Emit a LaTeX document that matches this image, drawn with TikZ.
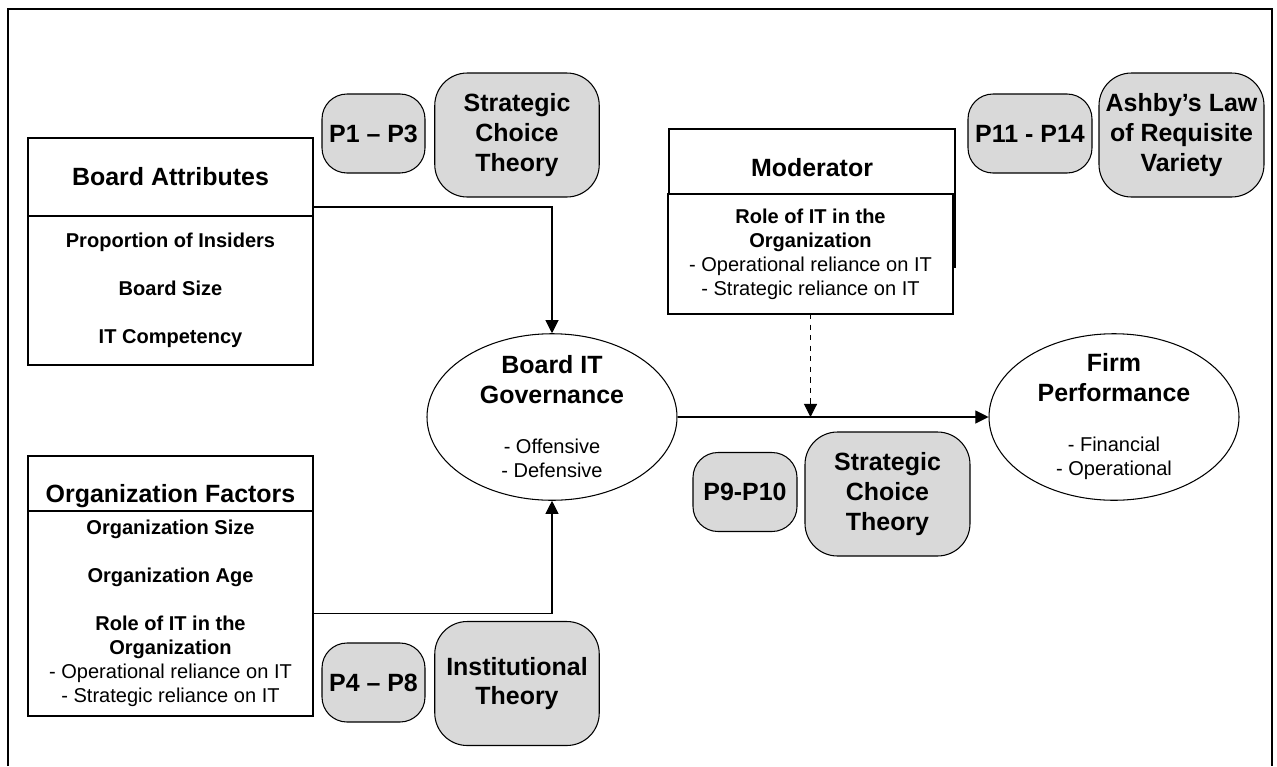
\documentclass[tikz,border=0pt]{standalone}
\usepackage{fontspec}
\setmainfont{Liberation Sans}
\usetikzlibrary{positioning, shapes, arrows.meta, calc}

\definecolor{thgray}{RGB}{217,217,217}
\newcommand{\ttlfont}{\fontsize{14.2}{17}\selectfont\bfseries}
\newcommand{\itmfont}{\fontsize{11.4}{13.7}\selectfont}

\begin{document}
\begin{tikzpicture}[
		line width=0.6pt,
		hbox/.style={rectangle, draw, fill=white, minimum width=5.7cm, align=center, 
		inner sep=0pt, outer sep=0pt},
		ovl/.style={ellipse, draw, minimum width=5cm, minimum height=3.33cm, inner sep=0pt},
		pbox/.style={rectangle, draw, fill=thgray, rounded corners=0.5cm, 
		minimum height=1.58cm, font=\ttlfont, inner sep=0pt},
		thbox/.style={rectangle, draw, fill=thgray, rounded corners=0.65cm, 
		minimum width=3.29cm, minimum height=2.48cm, align=center, font=\ttlfont, inner sep=0pt},
		arr/.style={-{Triangle[length=7.5pt,width=7.5pt]}}
		]
		
		\useasboundingbox (0,0) rectangle (25.54,-15.32);
		
		%Frame
		\draw (0.16,-15.32) |- (25.44,-0.18) -- (25.44,-15.32);
		
		%Nodes
		\node (battr) at (3.41,-3.54) [hbox, minimum height=1.56cm, font=\ttlfont]{Board Attributes};
		
		\node (battrl) [hbox, below=0pt of battr, minimum height=2.98cm, font=\itmfont\bfseries]
		{Proportion of Insiders\\[13.7pt]Board Size\\[13.7pt]IT Competency};
		
		\node (orgf) at (3.41,-9.67) [hbox, minimum height=1.1cm, text height=25pt, text depth=3pt, 
		font=\ttlfont]{Organization Factors};
		
		\node (orgl) [hbox, below=0pt of orgf, minimum height=4.1cm, font=\itmfont]
		{\textbf{Organization Size}\\[13.7pt]\textbf{Organization Age}\\[13.7pt]
		\textbf{Role of IT in the}\\\textbf{Organization}\\- Operational reliance on IT\\
		- Strategic reliance on IT};
		
		\node (mod) at (16.24,-3.96) [hbox, minimum width=5.72cm, minimum height=2.76cm, 
		text depth=35pt, font=\ttlfont]{Moderator};
		
		\node (modl) at (16.21,-5.08) [hbox, minimum height=2.4cm, font=\itmfont]
		{\textbf{Role of IT in the}\\\textbf{Organization}\\- Operational reliance on IT\\
		- Strategic reliance on IT};
		
		\node (gov) at (11.04,-8.34) [ovl, label={[align=center, font=\itmfont]center:
		{\ttlfont Board IT}\\[3.3pt]{\ttlfont Governance}\\[14.8pt]- Offensive\\- Defensive}]{};
		
		\node (firm) at (22.28,-8.34) [ovl, label={[align=center, font=\itmfont]center:
		{\ttlfont Firm}\\[3.3pt]{\ttlfont Performance}\\[14.8pt]- Financial\\- Operational}]{};
		
		\node (p13) at (7.47,-2.67) [pbox, minimum width=2.06cm]{P1 -- P3};
		\node (sct1) at (10.34,-2.70) [thbox]{Strategic\\Choice\\Theory};
		
		\node (p1114) at (20.6,-2.67) [pbox, minimum width=2.48cm]{P11 - P14};
		\node (ashby) at (23.63,-2.70) [thbox, minimum width=3.3cm]{Ashby's Law\\of Requisite\\Variety};
		
		\node (p910) at (14.9,-9.84) [pbox, minimum width=2.08cm]{P9-P10};
		\node (sct2) at (17.75,-9.88) [thbox, minimum width=3.3cm]{Strategic\\Choice\\Theory};
		
		\node (p48) at (7.47,-13.65) [pbox, minimum width=2.06cm]{P4 -- P8};
		\node (inst) at (10.34,-13.67) [thbox]{Institutional\\Theory};
		
		%Links
		\draw[arr] ([yshift=0.18cm]battr.south east) -| (gov.north);
		\draw[arr] (orgl.east) -| (gov.south);
		\draw[arr] (gov.east) -- (firm.west);
		\coordinate (modhit) at (modl.south |- gov.east);
		\draw[arr, dashed] (modl.south) -- (modhit);
		
	\end{tikzpicture}
\end{document}
